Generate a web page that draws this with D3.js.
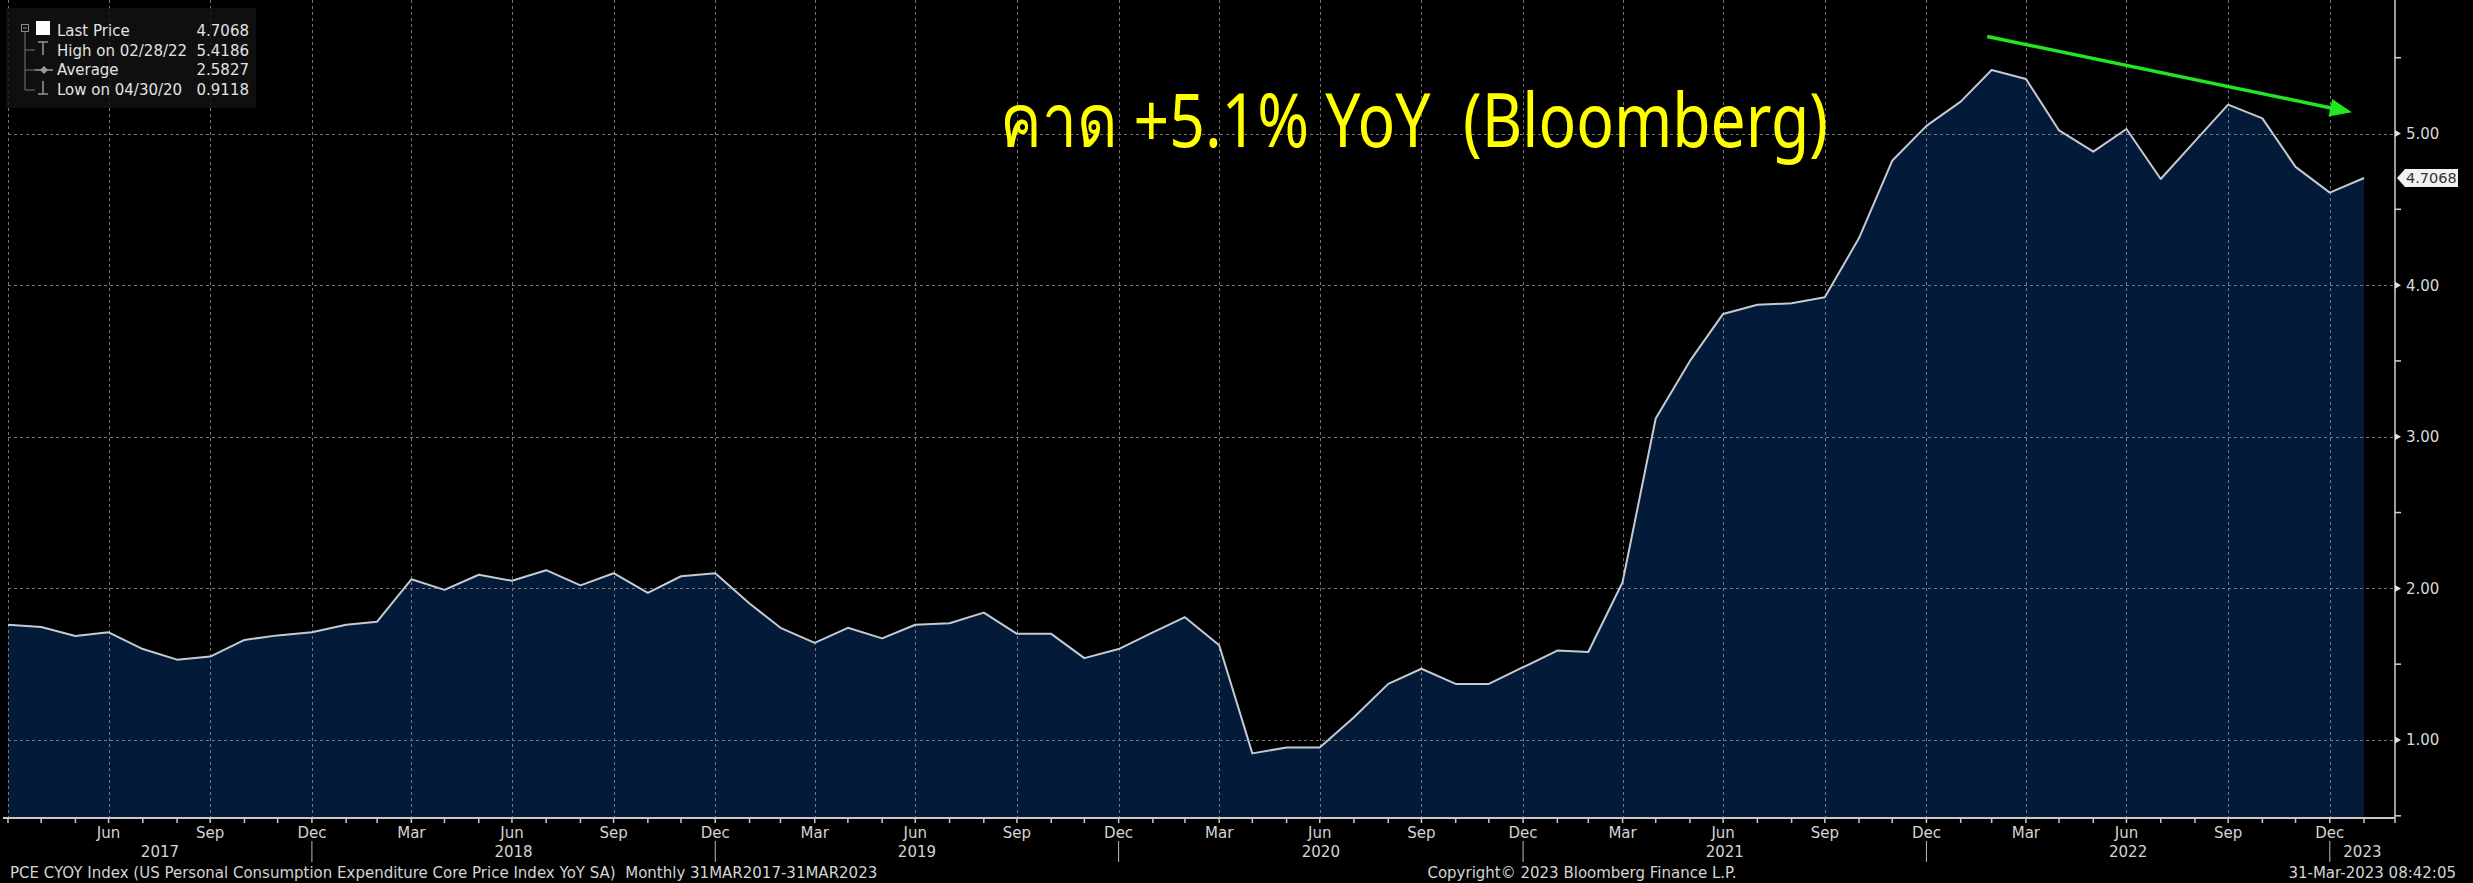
<!DOCTYPE html>
<html>
<head>
<meta charset="utf-8">
<script src="https://cdn.jsdelivr.net/npm/d3@7"></script>
<style>
  html, body { margin: 0; padding: 0; background: #000; }
  #chart { width: 2473px; height: 883px; }
</style>
</head>
<body>
<div id="chart"></div>
<script>
// PCE core YoY, monthly month-end values, Mar 2017 .. Jan 2023
const startMonth = "2017-03"
const pceCore = [
  1.76, 1.745, 1.686, 1.71, 1.60, 1.53, 1.55, 1.66, 1.69, 1.71,
  1.76, 1.78, 2.06, 1.99, 2.09, 2.05, 2.12, 2.02, 2.10, 1.97, 2.08, 2.10,
  1.90, 1.74, 1.64, 1.74, 1.67, 1.76, 1.77, 1.84, 1.70, 1.70, 1.54, 1.60,
  1.71, 1.81, 1.625, 0.9118, 0.95, 0.95, 1.15, 1.37, 1.47, 1.37, 1.37, 1.48,
  1.59, 1.58, 2.04, 3.12, 3.50, 3.81, 3.87, 3.88, 3.92, 4.31, 4.82, 5.05,
  5.21, 5.4186, 5.36, 5.02, 4.88, 5.03, 4.70, 4.95, 5.19, 5.10, 4.78, 4.61,
  4.7068
]
const xEnd = "2023-02-28"
const yTicks = [1, 2, 3, 4, 5]
const yMinorTicks = [0.5, 1.5, 2.5, 3.5, 4.5, 5.5]
const quarterMonths = [2, 5, 8, 11]   // Mar, Jun, Sep, Dec
const legendRows = [
  {label: "Last Price", value: "4.7068"},
  {label: "High on 02/28/22", value: "5.4186"},
  {label: "Average", value: "2.5827"},
  {label: "Low on 04/30/20", value: "0.9118"}
]
const lastPrice = 4.7068
const noteText = "คาด +5.1% YoY  (Bloomberg)"
const arrowFrom = {date: "2022-02-24", value: 5.64}
const arrowTo = {date: "2023-01-20", value: 5.14}
const footerLeft = "PCE CYOY Index (US Personal Consumption Expenditure Core Price Index YoY SA)  Monthly 31MAR2017-31MAR2023"
const footerMid = "Copyright\u00A9 2023 Bloomberg Finance L.P."
const footerRight = "31-Mar-2023 08:42:05"

const FONT = "'DejaVu Sans', Tahoma, sans-serif"

drawChart("#chart")

function drawChart(id){
  const canvas = createCanvas()
  const data = buildData()
  const svg = addSvg(id, canvas)
  const sc = addScales(canvas)

  addArea(svg, sc, data, canvas)
  addGrid(svg, sc, canvas)
  addLine(svg, sc, data)
  addXAxis(svg, sc, canvas)
  addYAxis(svg, sc, canvas)
  addLegend(svg)
  addNote(svg, sc)
  addFooter(svg, canvas)
}

function createCanvas(){
  return {width: 2473, height: 883, plot: {left: 8, right: 2395, top: 0, bottom: 818}}
}

function buildData(){
  const start = d3.utcParse("%Y-%m")(startMonth)
  // month-end dates
  return pceCore.map((v, i) => ({date: d3.utcDay.offset(d3.utcMonth.offset(start, i + 1), -1), value: v}))
}

function addSvg(id, canvas){
  const svg = d3.select(id).append("svg")
    .attr("width", canvas.width).attr("height", canvas.height)
  svg.append("rect").attr("width", canvas.width).attr("height", canvas.height).attr("fill", "#000")
  return svg
}

function addScales(canvas){
  const start = d3.utcDay.offset(d3.utcMonth.offset(d3.utcParse("%Y-%m")(startMonth), 1), -1)
  const xScale = d3.scaleUtc()
    .domain([start, d3.utcParse("%Y-%m-%d")(xEnd)])
    .range([canvas.plot.left, canvas.plot.right])
  const yScale = d3.scaleLinear().domain([1, 5]).range([740, 133.5])
  return {xScale, yScale}
}

function monthEnds(sc){
  const [a, b] = sc.xScale.domain()
  const out = []
  let m = d3.utcMonth.floor(a)
  while(true){
    const end = d3.utcDay.offset(d3.utcMonth.offset(m, 1), -1)
    if(end > b) break
    out.push(end)
    m = d3.utcMonth.offset(m, 1)
  }
  return out
}

function addArea(svg, sc, data, canvas){
  const area = d3.area().x(d => sc.xScale(d.date)).y0(canvas.plot.bottom).y1(d => sc.yScale(d.value))
  svg.append("path").datum(data).attr("fill", "#031b38").attr("d", area)
}

function addGrid(svg, sc, canvas){
  const g = svg.append("g").attr("stroke", "#8a8a8a").attr("stroke-width", 1)
    .attr("stroke-dasharray", "3,3").attr("opacity", 0.85)
  const quarters = monthEnds(sc).filter(d => quarterMonths.includes(d.getUTCMonth()))
  g.selectAll("line.v").data(quarters).enter().append("line")
    .attr("x1", d => Math.round(sc.xScale(d)) + 0.5).attr("x2", d => Math.round(sc.xScale(d)) + 0.5)
    .attr("y1", canvas.plot.top).attr("y2", canvas.plot.bottom)
  g.selectAll("line.h").data(yTicks).enter().append("line")
    .attr("x1", canvas.plot.left).attr("x2", canvas.plot.right)
    .attr("y1", d => Math.round(sc.yScale(d)) + 0.5).attr("y2", d => Math.round(sc.yScale(d)) + 0.5)
}

function addLine(svg, sc, data){
  const line = d3.line().x(d => sc.xScale(d.date)).y(d => sc.yScale(d.value))
  svg.append("path").datum(data).attr("fill", "none").attr("stroke", "#c4cad2")
    .attr("stroke-width", 2).attr("stroke-linejoin", "round").attr("d", line)
}

function addXAxis(svg, sc, canvas){
  const y0 = canvas.plot.bottom
  const months = monthEnds(sc)
  const g = svg.append("g")
  g.append("line").attr("x1", 3).attr("x2", canvas.plot.right)
    .attr("y1", y0).attr("y2", y0).attr("stroke", "#c8c8c8").attr("stroke-width", 2)
  g.selectAll("line.tick").data(months).enter().append("line")
    .attr("x1", d => sc.xScale(d)).attr("x2", d => sc.xScale(d))
    .attr("y1", y0).attr("y2", y0 + 5).attr("stroke", "#c8c8c8").attr("stroke-width", 1.5)

  // first month sits on the left edge and gets no label
  const quarters = months.filter(d => quarterMonths.includes(d.getUTCMonth()) && sc.xScale(d) > canvas.plot.left + 20)
  g.selectAll("text.q").data(quarters).enter().append("text")
    .attr("x", d => sc.xScale(d)).attr("y", 838).attr("text-anchor", "middle")
    .attr("font-family", FONT).attr("font-size", 15).attr("fill", "#d4d4d4")
    .text(d => d3.utcFormat("%b")(d))

  // year separators at December month-ends
  const decs = months.filter(d => d.getUTCMonth() === 11)
  g.selectAll("line.sep").data(decs).enter().append("line")
    .attr("x1", d => sc.xScale(d)).attr("x2", d => sc.xScale(d))
    .attr("y1", 841).attr("y2", 862).attr("stroke", "#bbbbbb").attr("stroke-width", 1)

  const bounds = [canvas.plot.left, ...decs.map(d => sc.xScale(d)), canvas.plot.right]
  const years = d3.range(bounds.length - 1).map(i => ({
    year: decs[0].getUTCFullYear() + i,
    x: (bounds[i] + bounds[i + 1]) / 2
  }))
  g.selectAll("text.y").data(years).enter().append("text")
    .attr("x", d => d.x).attr("y", 857).attr("text-anchor", "middle")
    .attr("font-family", FONT).attr("font-size", 15).attr("fill", "#d4d4d4")
    .text(d => d.year)
}

function addYAxis(svg, sc, canvas){
  const x0 = canvas.plot.right
  const g = svg.append("g")
  g.append("line").attr("x1", x0).attr("x2", x0).attr("y1", 0).attr("y2", canvas.plot.bottom)
    .attr("stroke", "#d0d0d0").attr("stroke-width", 1.5)
  g.selectAll("line.minor").data(yMinorTicks).enter().append("line")
    .attr("x1", x0).attr("x2", x0 + 6)
    .attr("y1", d => sc.yScale(d)).attr("y2", d => sc.yScale(d))
    .attr("stroke", "#d0d0d0").attr("stroke-width", 1.5)
  g.selectAll("path.major").data(yTicks).enter().append("path")
    .attr("d", d => `M${x0},${sc.yScale(d) - 3.5}L${x0 + 6},${sc.yScale(d)}L${x0},${sc.yScale(d) + 3.5}Z`)
    .attr("fill", "#e0e0e0")
  g.selectAll("text").data(yTicks).enter().append("text")
    .attr("x", x0 + 11).attr("y", d => sc.yScale(d)).attr("dy", "0.36em")
    .attr("font-family", FONT).attr("font-size", 15).attr("fill", "#d8d8d8")
    .text(d => d3.format(".2f")(d))

  // last price tag
  const ly = sc.yScale(lastPrice)
  g.append("path")
    .attr("d", `M${x0 + 2},${ly}L${x0 + 10},${ly - 9}L${x0 + 63},${ly - 9}L${x0 + 63},${ly + 9}L${x0 + 10},${ly + 9}Z`)
    .attr("fill", "#f2f2f2")
  g.append("text").attr("x", x0 + 11).attr("y", ly).attr("dy", "0.36em")
    .attr("font-family", FONT).attr("font-size", 14.5).attr("fill", "#333")
    .text(d3.format(".4f")(lastPrice))
}

function addLegend(svg){
  const lg = svg.append("g")
  lg.append("rect").attr("x", 6).attr("y", 8).attr("width", 250).attr("height", 100)
    .attr("fill", "#121212").attr("opacity", 0.82)

  // tree lines
  lg.append("rect").attr("x", 21.5).attr("y", 24.5).attr("width", 7).attr("height", 7)
    .attr("fill", "none").attr("stroke", "#888")
  lg.append("line").attr("x1", 23).attr("x2", 27).attr("y1", 28).attr("y2", 28).attr("stroke", "#888")
  lg.append("line").attr("x1", 25).attr("x2", 25).attr("y1", 32).attr("y2", 90).attr("stroke", "#777")
  ;[50, 70, 90].forEach(y => {
    lg.append("line").attr("x1", 25).attr("x2", 35).attr("y1", y).attr("y2", y).attr("stroke", "#777")
  })
  lg.append("rect").attr("x", 36).attr("y", 21).attr("width", 14).attr("height", 14).attr("fill", "#fff")
  // high icon
  lg.append("line").attr("x1", 38).attr("x2", 48).attr("y1", 42).attr("y2", 42).attr("stroke", "#999").attr("stroke-width", 1.5)
  lg.append("line").attr("x1", 43).attr("x2", 43).attr("y1", 42).attr("y2", 55).attr("stroke", "#999").attr("stroke-width", 1.5)
  // average icon
  lg.append("line").attr("x1", 35).attr("x2", 53).attr("y1", 70).attr("y2", 70).attr("stroke", "#999").attr("stroke-width", 1.5)
  lg.append("path").attr("d", "M44,66L48,70L44,74L40,70Z").attr("fill", "#999")
  // low icon
  lg.append("line").attr("x1", 43).attr("x2", 43).attr("y1", 81).attr("y2", 94).attr("stroke", "#999").attr("stroke-width", 1.5)
  lg.append("line").attr("x1", 38).attr("x2", 48).attr("y1", 94).attr("y2", 94).attr("stroke", "#999").attr("stroke-width", 1.5)

  lg.selectAll("text.l").data(legendRows).enter().append("text")
    .attr("x", 57).attr("y", (d, i) => 36 + i * 19.7)
    .attr("font-family", FONT).attr("font-size", 15).attr("fill", "#e2e2e2")
    .text(d => d.label)
  lg.selectAll("text.v").data(legendRows).enter().append("text")
    .attr("x", 249).attr("y", (d, i) => 36 + i * 19.7).attr("text-anchor", "end")
    .attr("font-family", FONT).attr("font-size", 15).attr("fill", "#e2e2e2")
    .text(d => d.value)
}

function addNote(svg, sc){
  svg.append("text").attr("x", 1000).attr("y", 147)
    .attr("font-family", "'Liberation Sans Narrow', 'Arial Narrow', 'Noto Sans', sans-serif")
    .attr("font-size", 75).attr("fill", "#ffff00")
    .attr("textLength", 828).attr("lengthAdjust", "spacingAndGlyphs")
    .style("white-space", "pre")
    .text(noteText)

  const p = d3.utcParse("%Y-%m-%d")
  const x1 = sc.xScale(p(arrowFrom.date)), y1 = sc.yScale(arrowFrom.value)
  const x2 = sc.xScale(p(arrowTo.date)), y2 = sc.yScale(arrowTo.value)
  const ang = Math.atan2(y2 - y1, x2 - x1)
  const len = 22, half = 9
  const bx = x2 - len * Math.cos(ang), by = y2 - len * Math.sin(ang)
  svg.append("line").attr("x1", x1).attr("y1", y1).attr("x2", bx + 2 * Math.cos(ang)).attr("y2", by + 2 * Math.sin(ang))
    .attr("stroke", "#22e622").attr("stroke-width", 3.5)
  svg.append("path")
    .attr("d", `M${x2},${y2}L${bx - half * Math.sin(ang)},${by + half * Math.cos(ang)}L${bx + half * Math.sin(ang)},${by - half * Math.cos(ang)}Z`)
    .attr("fill", "#22e622")
}

function addFooter(svg, canvas){
  const f = svg.append("g").attr("font-family", FONT).attr("font-size", 15).attr("fill", "#d4d4d4")
  f.append("text").attr("x", 10).attr("y", 878).style("white-space", "pre").text(footerLeft)
  f.append("text").attr("x", 1582).attr("y", 878).attr("text-anchor", "middle").text(footerMid)
  f.append("text").attr("x", 2456).attr("y", 878).attr("text-anchor", "end").text(footerRight)
}
</script>
</body>
</html>
